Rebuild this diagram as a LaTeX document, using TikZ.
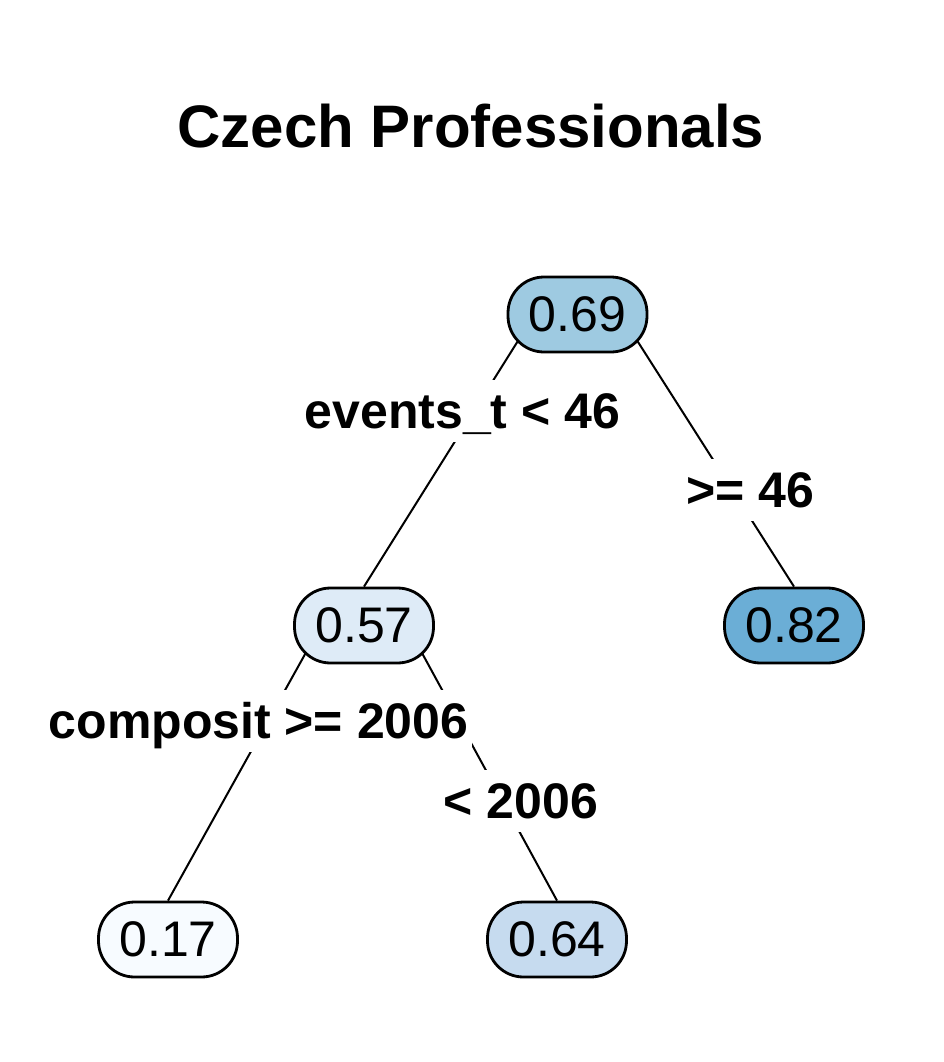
\documentclass[tikz,border=0pt]{standalone}
\usepackage{fontspec}
\setmainfont{Liberation Sans}
\usetikzlibrary{backgrounds}
\usetikzlibrary{calc}

\definecolor{fill069}{HTML}{9ECAE1}
\definecolor{fill057}{HTML}{DEEBF7}
\definecolor{fill082}{HTML}{6BAED6}
\definecolor{fill017}{HTML}{F7FBFF}
\definecolor{fill064}{HTML}{C6DBEF}

\begin{document}
\begin{tikzpicture}[x=0.5pt,y=-0.5pt]
	\tikzset{leaf/.style={draw,line width=1.4pt,rounded corners=18pt,minimum width=69.5pt,minimum height=37.5pt,inner sep=0pt,font=\fontsize{25}{30}\selectfont}}
	\tikzset{split/.style={fill=white,inner xsep=2pt,inner ysep=4pt,text height=20pt,text depth=3pt,anchor=base,font=\fontsize{25}{30}\selectfont\bfseries}}
	\useasboundingbox (0,0) rectangle (944,1062);
		\node[anchor=base,font=\fontsize{30}{36}\selectfont\bfseries] at (471,147) (title) {Czech Professionals};
		\node[leaf,fill=fill069] at (577.5,314.5) (n1) {0.69};
		\node[leaf,fill=fill057] at (364,625.5) (n2) {0.57};
		\node[leaf,fill=fill082] at (794,625.5) (n3) {0.82};
		\node[leaf,fill=fill017] at (168,939.5) (n4) {0.17};
		\node[leaf,fill=fill064] at (557,939.5) (n5) {0.64};
		% branches behind the boxes
		\begin{scope}[on background layer]
			\fill[white] (0,0) rectangle (944,1062);
			\draw[line width=1pt] ([xshift=-21.5pt]n1.center) -- (n2.north);
			\draw[line width=1pt] ([xshift=21.5pt]n1.center) -- (n3.north);
			\draw[line width=1pt] ([xshift=-21.5pt]n2.center) -- (n4.north);
			\draw[line width=1pt] ([xshift=21.5pt]n2.center) -- (n5.north);
		\end{scope}
		\node[split] at (462.5,428) (s1) {events\_t < 46};
		\node[split] at (750.5,507) (s1r) {>= 46};
		\node[split] at (258.5,738) (s2) {composit >= 2006};
		\node[split] at (521,818) (s2r) {< 2006};
	\end{tikzpicture}
\end{document}
